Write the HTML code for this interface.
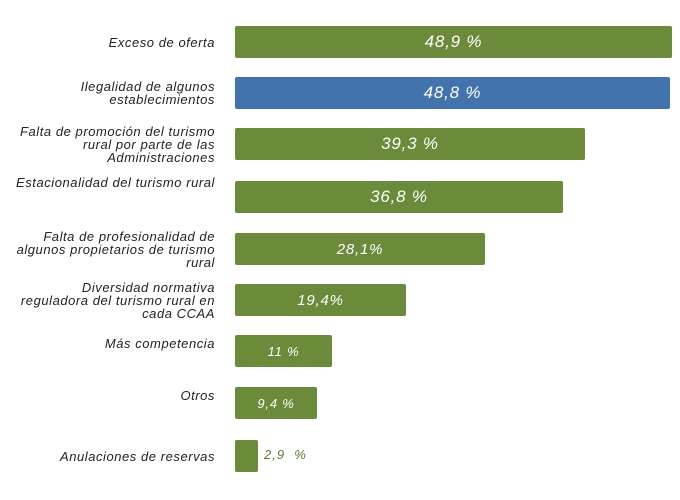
<!DOCTYPE html>
<html><head><meta charset="utf-8"><style>
body{margin:0;width:680px;height:500px;background:#fff;position:relative;font-family:"Liberation Sans",sans-serif;font-style:italic;overflow:hidden}
.b{position:absolute;left:235px;height:32px;background:#6b8a3a;border-radius:2px;color:#fff;font-size:17px;letter-spacing:0.8px;display:flex;align-items:center;justify-content:center}
.l{position:absolute;right:465px;width:230px;text-align:right;font-size:13px;letter-spacing:0.55px;line-height:13px;color:#222;display:flex;align-items:center;justify-content:flex-end;height:32px}
</style></head><body>
<div class="l" style="top:26px">Exceso de oferta</div>
<div class="b" style="top:26px;width:437px">48,9 %</div>
<div class="l" style="top:77px">Ilegalidad de algunos<br>establecimientos</div>
<div class="b" style="top:77px;width:435px;background:#4373ad">48,8 %</div>
<div class="l" style="top:128px">Falta de promoción del turismo<br>rural por parte de las<br>Administraciones</div>
<div class="b" style="top:128px;width:350px">39,3 %</div>
<div class="l" style="top:176px;align-items:flex-start">Estacionalidad del turismo rural</div>
<div class="b" style="top:181px;width:328px">36,8 %</div>
<div class="l" style="top:233px">Falta de profesionalidad de<br>algunos propietarios de turismo<br>rural</div>
<div class="b" style="top:233px;width:250px;font-size:15px">28,1%</div>
<div class="l" style="top:284px">Diversidad normativa<br>reguladora del turismo rural en<br>cada CCAA</div>
<div class="b" style="top:284px;width:171px;font-size:15px">19,4%</div>
<div class="l" style="top:335px;align-items:flex-start;padding-top:2px">Más competencia</div>
<div class="b" style="top:335px;width:97px;font-size:13px">11 %</div>
<div class="l" style="top:387px;align-items:flex-start;padding-top:2px">Otros</div>
<div class="b" style="top:387px;width:82px;font-size:13px">9,4 %</div>
<div class="l" style="top:440px">Anulaciones de reservas</div>
<div class="b" style="top:440px;width:23px"></div>
<div style="position:absolute;left:264px;top:447px;font-size:13px;letter-spacing:1px;color:#5a7a2a">2,9 &nbsp;%</div>
</body></html>
